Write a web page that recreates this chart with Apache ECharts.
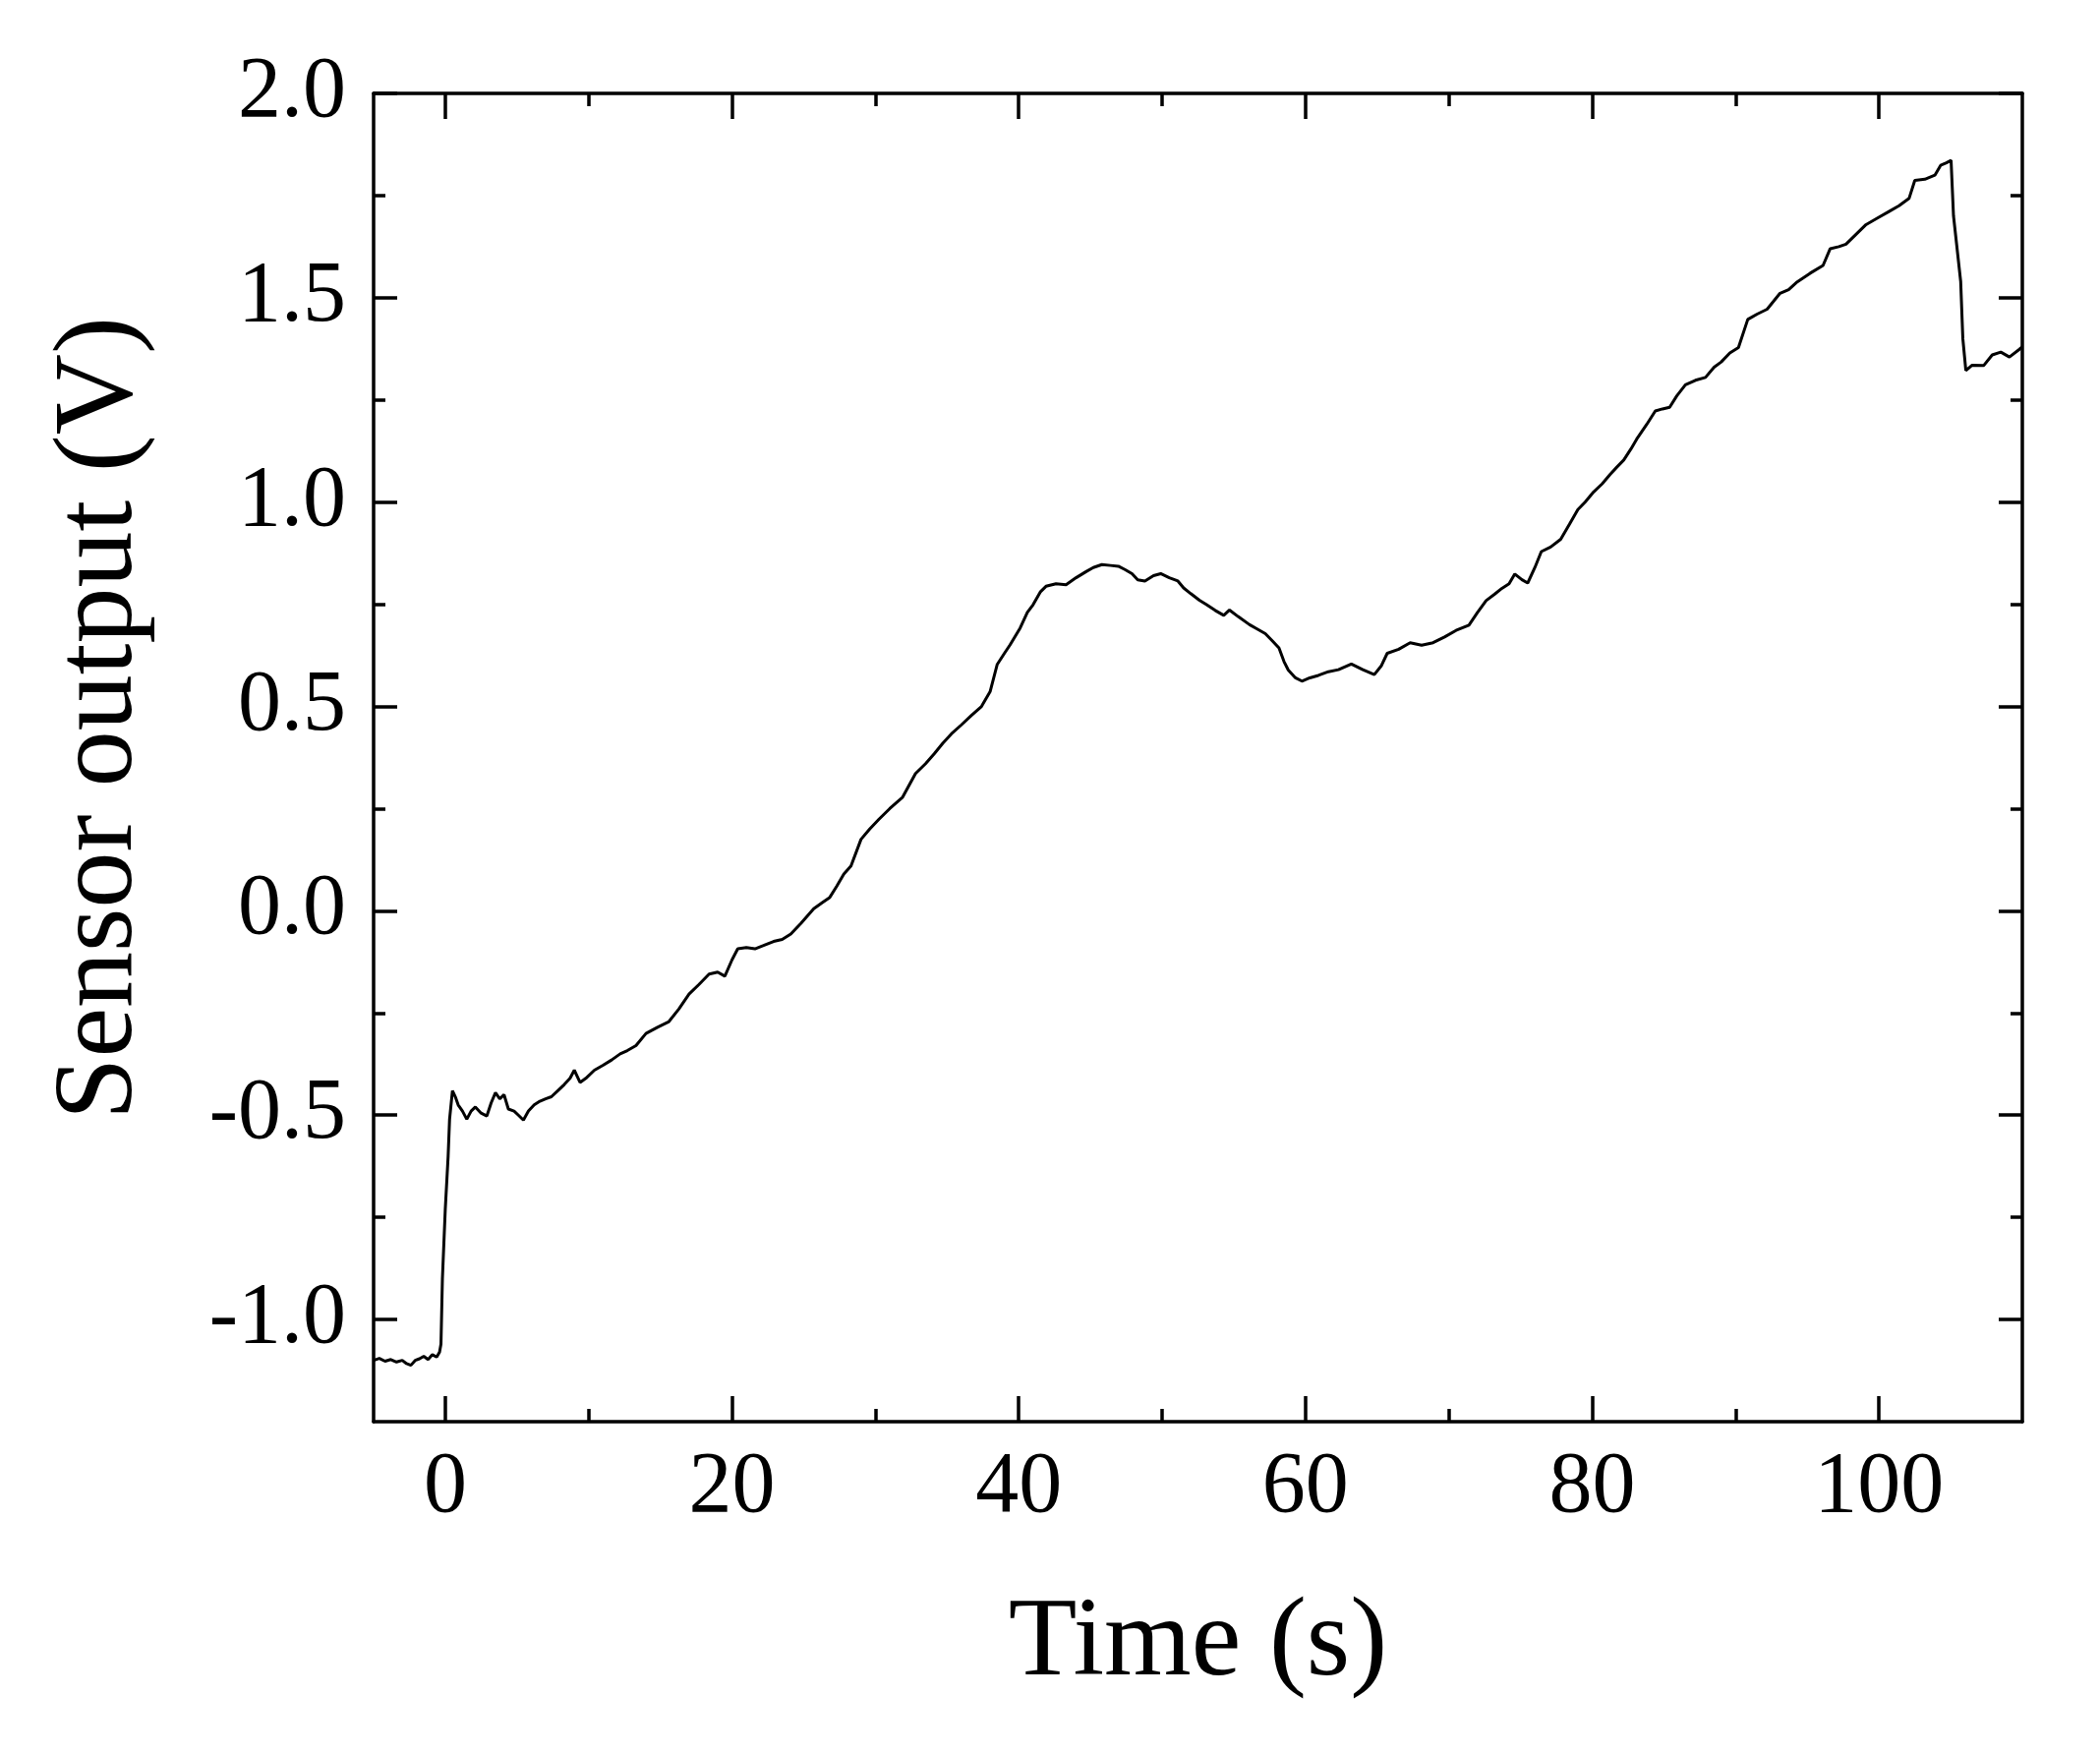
<!DOCTYPE html>
<html>
<head>
<meta charset="utf-8">
<script src="https://cdn.jsdelivr.net/npm/echarts@6/dist/echarts.min.js"></script>
<style>
  html, body { margin: 0; padding: 0; background: #fff; }
  #chart { width: 2136px; height: 1784px; }
</style>
</head>
<body>
<div id="chart"></div>
<script>
// ---- data ----
const timeSec = [
  -5.0, -4.6, -4.2, -3.8, -3.4, -3.0, -2.7, -2.4, -2.1, -1.8, -1.5, -1.2, -0.9, -0.6, -0.4, -0.3, -0.2, 0.0, 0.2, 0.3,
  0.5, 0.7, 0.9, 1.2, 1.5, 1.8, 2.1, 2.5, 2.9, 3.2, 3.5, 3.8, 4.1, 4.4, 4.8, 5.1, 5.45, 5.8, 6.2, 6.6,
  7.0, 7.4, 7.85, 8.3, 8.7, 9.0, 9.4, 9.8, 10.4, 11.0, 11.6, 12.2, 12.7, 13.3, 14.0, 14.8, 15.6, 16.3, 17.0, 17.7,
  18.4, 19.0, 19.5, 20.0, 20.4, 21.0, 21.6, 22.2, 22.9, 23.5, 24.1, 24.8, 25.7, 26.3, 26.8, 27.3, 27.8, 28.3, 29.0, 29.6,
  30.25, 31.0, 31.9, 32.8, 33.5, 34.1, 34.7, 35.3, 36.0, 36.7, 37.4, 38.0, 38.5, 39.0, 39.4, 40.1, 40.6, 41.0, 41.5, 41.9,
  42.6, 43.3, 44.0, 44.7, 45.2, 45.8, 46.4, 46.95, 47.4, 47.9, 48.3, 48.8, 49.4, 49.9, 50.5, 51.1, 51.5, 52.0, 52.6, 53.1,
  53.7, 54.3, 54.7, 55.3, 56.1, 56.6, 57.2, 57.7, 58.15, 58.5, 58.8, 59.3, 59.75, 60.3, 60.9, 61.6, 62.3, 63.2, 64.0, 64.8,
  65.3, 65.7, 66.5, 67.3, 68.1, 68.9, 69.7, 70.5, 71.4, 72.0, 72.6, 73.2, 73.7, 74.2, 74.6, 75.1, 75.5, 76.0, 76.45, 77.1,
  77.8, 78.4, 79.0, 79.5, 80.1, 80.7, 81.25, 81.7, 82.2, 82.7, 83.1, 83.8, 84.4, 84.9, 85.4, 85.9, 86.5, 87.2, 87.9, 88.5,
  89.0, 89.6, 90.2, 90.85, 91.5, 92.2, 93.1, 93.7, 94.3, 95.2, 96.1, 96.6, 97.2, 97.7, 98.4, 99.1, 99.9, 100.7, 101.4, 102.1,
  102.5, 103.2, 103.9, 104.3, 104.7, 105.03, 105.2, 105.7, 105.85, 106.06, 106.5, 107.3, 107.9, 108.5, 109.1, 109.8, 110.0
];
const sensorVolt = [
  -1.100, -1.095, -1.102, -1.098, -1.104, -1.100, -1.108, -1.112, -1.100, -1.096, -1.090, -1.098, -1.086, -1.092, -1.080, -1.06, -0.90, -0.73, -0.60, -0.51,
  -0.44, -0.455, -0.475, -0.49, -0.51, -0.49, -0.48, -0.495, -0.502, -0.47, -0.445, -0.46, -0.45, -0.485, -0.49, -0.50, -0.512, -0.49, -0.475, -0.466,
  -0.46, -0.455, -0.44, -0.425, -0.41, -0.39, -0.42, -0.41, -0.39, -0.378, -0.365, -0.35, -0.342, -0.33, -0.30, -0.285, -0.271, -0.24, -0.204, -0.18,
  -0.155, -0.15, -0.16, -0.12, -0.093, -0.09, -0.093, -0.085, -0.075, -0.07, -0.057, -0.031, 0.005, 0.02, 0.032, 0.06, 0.09, 0.11, 0.175, 0.20,
  0.224, 0.25, 0.278, 0.336, 0.36, 0.384, 0.41, 0.433, 0.455, 0.478, 0.50, 0.536, 0.603, 0.63, 0.651, 0.692, 0.73, 0.749, 0.78, 0.794,
  0.80, 0.798, 0.815, 0.83, 0.84, 0.847, 0.845, 0.843, 0.835, 0.825, 0.81, 0.807, 0.82, 0.825, 0.815, 0.807, 0.79, 0.776, 0.76, 0.749,
  0.735, 0.723, 0.736, 0.72, 0.70, 0.69, 0.678, 0.66, 0.643, 0.61, 0.589, 0.57, 0.562, 0.57, 0.576, 0.585, 0.59, 0.604, 0.59, 0.578,
  0.60, 0.63, 0.64, 0.656, 0.65, 0.656, 0.67, 0.686, 0.699, 0.73, 0.759, 0.775, 0.789, 0.80, 0.824, 0.81, 0.802, 0.84, 0.879, 0.89,
  0.909, 0.945, 0.982, 1.00, 1.025, 1.045, 1.068, 1.085, 1.103, 1.13, 1.154, 1.19, 1.223, 1.228, 1.232, 1.26, 1.287, 1.298, 1.305, 1.33,
  1.343, 1.365, 1.378, 1.447, 1.46, 1.472, 1.511, 1.52, 1.539, 1.56, 1.579, 1.62, 1.625, 1.631, 1.655, 1.679, 1.695, 1.711, 1.725, 1.743,
  1.787, 1.79, 1.80, 1.824, 1.83, 1.836, 1.70, 1.54, 1.40, 1.322, 1.335, 1.334, 1.36, 1.367, 1.355, 1.374, 1.38
];
const xMajorTicks = [0, 20, 40, 60, 80, 100];
const xMinorTicks = [10, 30, 50, 70, 90];
const yMajorTicks = [-1.0, -0.5, 0.0, 0.5, 1.0, 1.5, 2.0];
const yMinorTicks = [-0.75, -0.25, 0.25, 0.75, 1.25, 1.75];
const xTitle = 'Time (s)';
const yTitle = 'Sensor output (V)';

// ---- chart ----
const FONT = "'Liberation Serif', 'Times New Roman', serif";
const X_MIN = -5, X_MAX = 110, Y_MIN = -1.25, Y_MAX = 2.0;

function xAxisDef(position, ticks, len, withLabels, withLine) {
  return {
    type: 'value', position: position, min: X_MIN, max: X_MAX,
    splitLine: { show: false },
    axisLine: { show: withLine, onZero: false, lineStyle: { color: '#000', width: 3.5 } },
    axisTick: { show: true, inside: true, length: len, customValues: ticks, lineStyle: { color: '#000', width: 3.5 } },
    axisLabel: withLabels ? {
      show: true, customValues: ticks, margin: 24, color: '#000', fontFamily: FONT, fontSize: 88,
      formatter: v => String(Math.round(v))
    } : { show: false },
    name: withLabels ? xTitle : '',
    nameLocation: 'middle', nameGap: 170,
    nameTextStyle: { color: '#000', fontFamily: FONT, fontSize: 114 }
  };
}
function yAxisDef(position, ticks, len, withLabels, withLine) {
  return {
    type: 'value', position: position, min: Y_MIN, max: Y_MAX,
    splitLine: { show: false },
    axisLine: { show: withLine, onZero: false, lineStyle: { color: '#000', width: 3.5 } },
    axisTick: { show: true, inside: true, length: len, customValues: ticks, lineStyle: { color: '#000', width: 3.5 } },
    axisLabel: withLabels ? {
      show: true, customValues: ticks, margin: 28, color: '#000', fontFamily: FONT, fontSize: 88,
      formatter: v => v.toFixed(1)
    } : { show: false },
    name: withLabels ? yTitle : '',
    nameLocation: 'middle', nameGap: 220,
    nameTextStyle: { color: '#000', fontFamily: FONT, fontSize: 114, padding: [0, 0, 0, 80] }
  };
}

const chart = echarts.init(document.getElementById('chart'), null, { renderer: 'canvas' });
chart.setOption({
  animation: false,
  backgroundColor: '#fff',
  grid: { left: 380, right: 79, top: 95, bottom: 338, containLabel: false, outerBoundsMode: 'none' },
  xAxis: [
    xAxisDef('bottom', xMajorTicks, 26, true, true),
    xAxisDef('bottom', xMinorTicks, 13, false, false),
    xAxisDef('top', xMajorTicks, 26, false, true),
    xAxisDef('top', xMinorTicks, 13, false, false)
  ],
  yAxis: [
    yAxisDef('left', yMajorTicks, 24, true, true),
    yAxisDef('left', yMinorTicks, 12, false, false),
    yAxisDef('right', yMajorTicks, 24, false, true),
    yAxisDef('right', yMinorTicks, 12, false, false)
  ],
  series: [{
    type: 'line',
    xAxisIndex: 0, yAxisIndex: 0,
    data: timeSec.map((t, i) => [t, sensorVolt[i]]),
    showSymbol: false,
    symbol: 'none',
    lineStyle: { color: '#000', width: 3 },
    silent: true
  }]
});
</script>
</body>
</html>
